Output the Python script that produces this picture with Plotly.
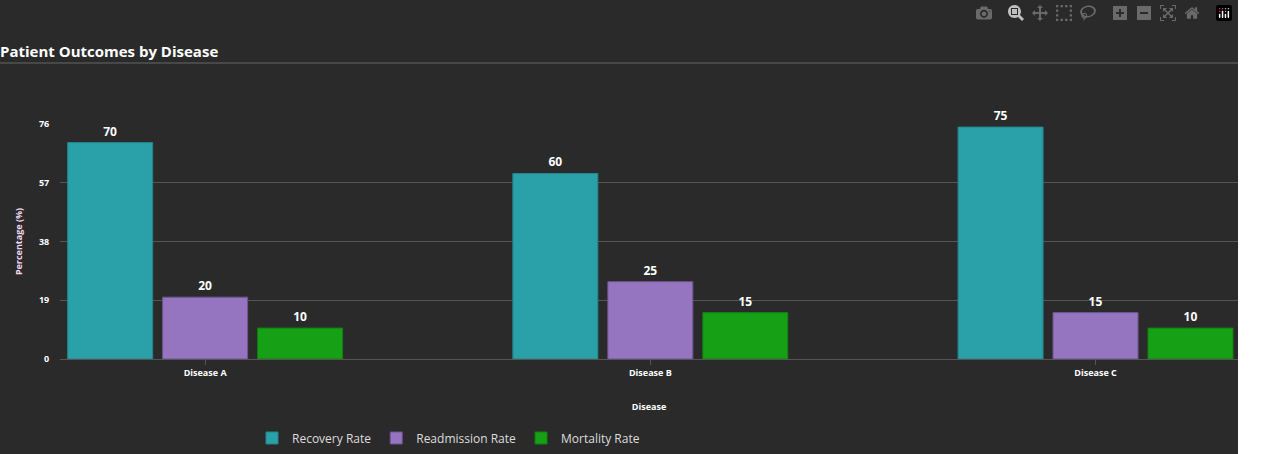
import plotly.graph_objects as go

categories = ["Disease A", "Disease B", "Disease C"]
recovery = [70, 60, 75]
readmission = [20, 25, 15]
mortality = [10, 15, 10]
series = [("Recovery Rate", recovery, "#2aa0a8", "#23868c"),
          ("Readmission Rate", readmission, "#9575c0", "#6e5590"),
          ("Mortality Rate", mortality, "#16a016", "#118011")]
yticks = [0, 19, 38, 57, 76]

fig = go.Figure()
for name, vals, col, lc in series:
    fig.add_trace(go.Bar(x=list(range(len(categories))), y=vals, name=name, marker=dict(color=col, line=dict(color=lc, width=1)),
                         text=vals, textposition="outside", cliponaxis=False,
                         textfont=dict(color="white", size=12, family="Open Sans"), texttemplate="<b>%{text}</b>"))
fig.update_layout(
    width=1238, height=454, margin=dict(l=60, r=0, t=124, b=95),
    paper_bgcolor="#2a2a2a", plot_bgcolor="#2a2a2a",
    bargap=0.36, bargroupgap=0.105, barmode="group",
    font=dict(family="Open Sans", color="white"),
    title=dict(text="<b>Patient Outcomes by Disease</b>", x=0, xref="container", xanchor="left", y=1-52/454, yanchor="middle",
               font=dict(size=15, color="white"), pad=dict(l=0)),
    legend=dict(orientation="h", x=(252-60)/1178, xanchor="left", y=-(438-359)/235, yanchor="middle",
                font=dict(size=12, color="#dddddd"), itemwidth=30),
    xaxis=dict(range=[-0.326, 2.32], tickvals=[0, 1, 2], ticktext=["<b>%s</b>" % c for c in categories],
               tickfont=dict(size=9, color="white"), ticks="outside", ticklen=5, tickcolor="#555",
               showline=True, linecolor="#555", showgrid=False,
               title=dict(text="<b>Disease</b>", font=dict(size=9, color="white"), standoff=25)),
    yaxis=dict(range=[0, 76], tickvals=yticks, ticktext=["<b>%d</b>" % v for v in yticks],
               tickfont=dict(size=9, color="white"), gridcolor="#555", zeroline=False,
               ticks="outside", ticklen=8, tickcolor="#2a2a2a",
               title=dict(text="<b>Percentage (%)</b>", font=dict(size=9, color="#f0d8f0"), standoff=14)),
    shapes=[dict(type="line", xref="paper", yref="paper", x0=-60/1178, x1=1, y0=1+(124-63)/235, y1=1+(124-63)/235,
                 line=dict(color="#666", width=1))],
)
fig.write_html("out.html", post_script="document.body.style.margin='0';document.body.style.overflow='hidden';")
